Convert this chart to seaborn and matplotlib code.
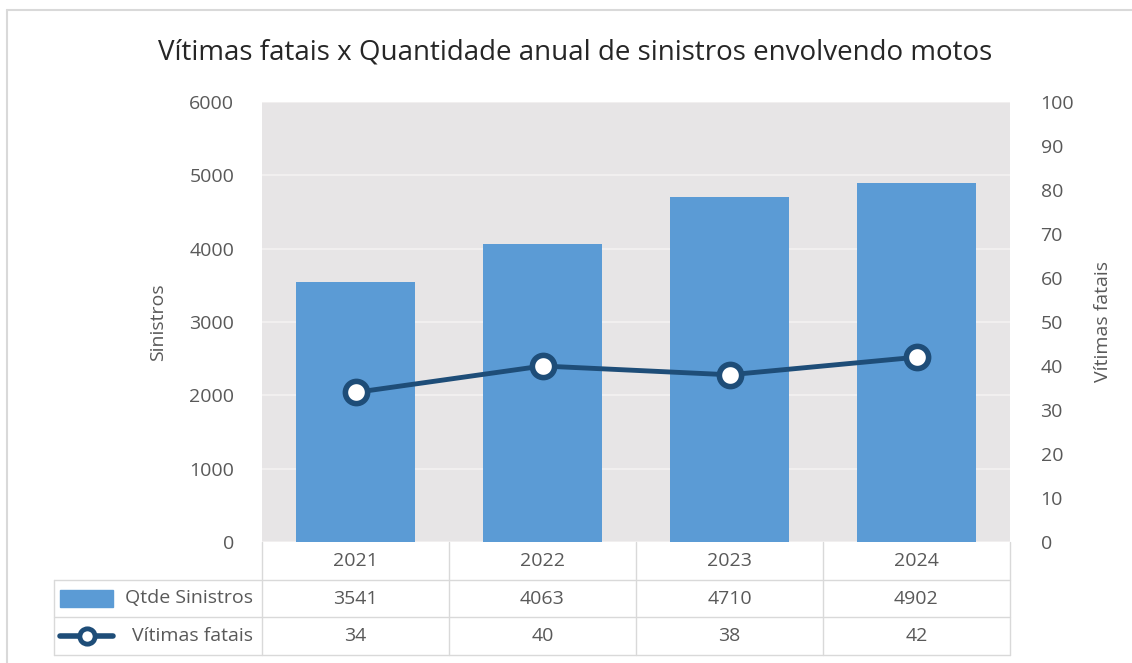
import numpy as np
import pandas as pd
import matplotlib
matplotlib.use("Agg")
import matplotlib.pyplot as plt
from matplotlib.lines import Line2D
from matplotlib.patches import Rectangle
import seaborn as sns

# ---- data ----
anos = ["2021", "2022", "2023", "2024"]
sinistros = [3541, 4063, 4710, 4902]
vitimas = [34, 40, 38, 42]
left_ticks = [0, 1000, 2000, 3000, 4000, 5000, 6000]
right_ticks = [0, 10, 20, 30, 40, 50, 60, 70, 80, 90, 100]

title = "Vítimas fatais x Quantidade anual de sinistros envolvendo motos"
serie_bar = "Qtde Sinistros"
serie_line = "Vítimas fatais"

BAR = "#5b9bd5"
LINE = "#1e4d78"
TXT = "#595959"
BG = "#e7e5e6"
GRID = "#f1efef"
TAB = "#d9d9d9"
FONT = ["Open Sans", "DejaVu Sans"]

sns.set_theme(style="white")
plt.rcParams["font.family"] = FONT

W, H = 1132, 663
fig = plt.figure(figsize=(W / 100, H / 100), dpi=100)

L, R, T, B = 262, 1010, 102, 542
ax = fig.add_axes([L / W, 1 - B / H, (R - L) / W, (B - T) / H])
ax.set_facecolor(BG)

df = pd.DataFrame({"ano": anos, "sin": sinistros, "vit": vitimas})
sns.barplot(data=df, x="ano", y="sin", color=BAR, saturation=1, width=0.64,
            ax=ax, zorder=2, linewidth=0, edgecolor=BAR)
ax.set_ylim(0, 6000)
ax.set_xlim(-0.5, len(anos) - 0.5)
ax.set_yticks(left_ticks)
ax.set_yticklabels([str(t) for t in left_ticks])
ax.yaxis.grid(True, color=GRID, lw=1.5, zorder=0)
ax.set_axisbelow(True)
ax.set_xticks([])
ax.set_xlabel("")
ax.set_ylabel("Sinistros", color=TXT, fontsize=14, labelpad=16)
ax.tick_params(axis="y", length=0, labelsize=14, labelcolor=TXT, pad=20)
for s in ax.spines.values():
    s.set_visible(False)

ax2 = ax.twinx()
sns.lineplot(x=np.arange(len(anos)), y=vitimas, ax=ax2, color=LINE, lw=3.5,
             marker="o", markersize=16, markerfacecolor="white",
             markeredgecolor=LINE, markeredgewidth=4, zorder=5)
ax2.set_ylim(0, 100)
ax2.set_yticks(right_ticks)
ax2.set_yticklabels([str(t) for t in right_ticks])
ax2.tick_params(axis="y", length=0, labelsize=14, labelcolor=TXT, pad=22)
ax2.set_ylabel("Vítimas fatais", color=TXT, fontsize=14, labelpad=14)
for s in ax2.spines.values():
    s.set_visible(False)
ax2.grid(False)

fig.text(575 / W, 1 - 52 / H, title, ha="center", va="center",
         fontsize=20, color="#262626")

# ---- data table ----
TB = 655
tax = fig.add_axes([L / W, 1 - TB / H, (R - L) / W, (TB - B) / H])
tax.set_xlim(-0.5, len(anos) - 0.5)
tax.set_ylim(3, 0)
tax.axis("off")
unit = (R - L) / len(anos)
xleft = -0.5 - (L - 54) / unit
for yv in [1, 2, 3]:
    tax.add_line(Line2D([xleft, len(anos) - 0.5], [yv, yv], color=TAB, lw=1,
                        clip_on=False))
for i in range(len(anos) + 1):
    xv = i - 0.5
    tax.add_line(Line2D([xv, xv], [0, 3], color=TAB, lw=1, clip_on=False))
tax.add_line(Line2D([xleft, xleft], [1, 3], color=TAB, lw=1, clip_on=False))

for i, a in enumerate(anos):
    tax.text(i, 0.5, a, ha="center", va="center", fontsize=14, color=TXT)
    tax.text(i, 1.5, str(sinistros[i]), ha="center", va="center", fontsize=14, color=TXT)
    tax.text(i, 2.5, str(vitimas[i]), ha="center", va="center", fontsize=14, color=TXT)

kx0 = xleft + 6 / unit
kx1 = xleft + 59 / unit
tax.add_patch(Rectangle((kx0, 1.28), kx1 - kx0, 0.44, color=BAR, clip_on=False))
tax.text(-0.5 - 9 / unit, 1.5, serie_bar, ha="right", va="center", fontsize=14, color=TXT)
tax.add_line(Line2D([kx0, kx1], [2.5, 2.5], color=LINE, lw=4, clip_on=False))
tax.add_line(Line2D([(kx0 + kx1) / 2], [2.5], marker="o", markersize=11,
                    markerfacecolor="white", markeredgecolor=LINE,
                    markeredgewidth=3.5, clip_on=False))
tax.text(-0.5 - 9 / unit, 2.5, serie_line, ha="right", va="center", fontsize=14, color=TXT)

# outer frame
fig.add_artist(Line2D([7 / W, 7 / W], [0, 1 - 10 / H], color=TAB, lw=1.5))
fig.add_artist(Line2D([7 / W, 1], [1 - 10 / H, 1 - 10 / H], color=TAB, lw=1.5))

fig.savefig("out.png", dpi=100)
